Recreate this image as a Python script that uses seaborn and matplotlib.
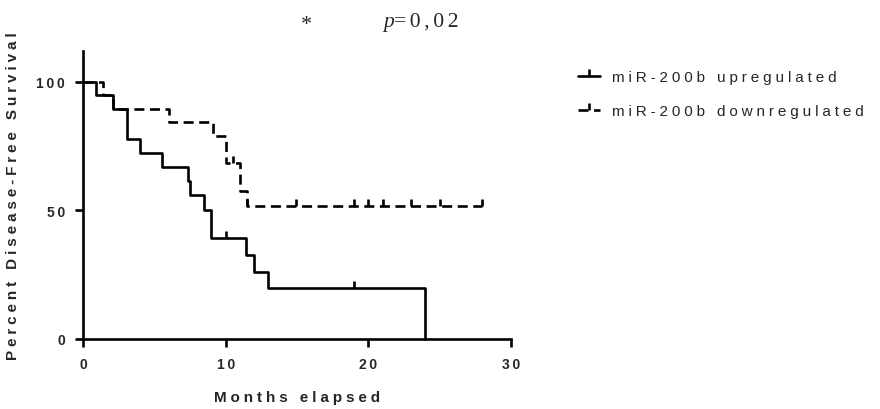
import matplotlib
matplotlib.use("Agg")
import matplotlib.pyplot as plt
import seaborn as sns
from matplotlib.lines import Line2D

# Kaplan-Meier step data (months, percent disease-free survival)
up_time = [0, 0.9, 2.1, 3.05, 4.0, 5.55, 7.35, 7.5, 8.5, 9.0, 11.4, 12.0, 13.0, 24.0]
up_surv = [100, 94.7, 89.5, 77.8, 72.5, 66.7, 61.3, 55.9, 50.3, 39.2, 32.6, 26.2, 19.7, 0]
up_cens_time = [10.0, 19.0]
up_cens_surv = [39.2, 19.7]

down_time = [0, 1.4, 2.1, 6.0, 9.1, 10.0, 11.0, 11.5, 28.0]
down_surv = [100, 94.7, 89.5, 84.2, 78.9, 68.4, 57.4, 51.7, 51.7]
down_cens_time = [10.5, 11.5, 14.9, 19.0, 20.0, 21.0, 23.0, 25.0, 28.0]
down_cens_surv = [68.4, 51.7, 51.7, 51.7, 51.7, 51.7, 51.7, 51.7, 51.7]

series_labels = ["miR-200b upregulated", "miR-200b downregulated"]
x_ticks = [0, 10, 20, 30]
y_ticks = [0, 50, 100]
x_label = "Months elapsed"
y_label = "Percent Disease-Free Survival"
star_text = "*"
p_label = "p"
p_value = "=0,02"

sns.set_style("ticks")
plt.rcParams["font.family"] = ["Liberation Sans", "DejaVu Sans"]


def track(s, sep):
    """Widen letter spacing by joining characters with a spacing glyph."""
    return sep.join(s)


LW = 1.9
DASH = (0, (3.8, 2.1))
SERIF = ["Liberation Serif", "DejaVu Serif"]

fig = plt.figure(figsize=(8.8, 4.1), dpi=100)
ax = fig.add_axes([83 / 880, 1 - 340 / 410, (511 - 83) / 880, (340 - 52) / 410])

sns.lineplot(x=up_time, y=up_surv, drawstyle="steps-post", estimator=None, sort=False,
             color="black", linewidth=LW, ax=ax, clip_on=False)
sns.lineplot(x=down_time, y=down_surv, drawstyle="steps-post", estimator=None, sort=False,
             color="black", linewidth=LW, linestyle=DASH, ax=ax, clip_on=False)
sns.scatterplot(x=up_cens_time, y=up_cens_surv, marker=2, s=22, color="black",
                linewidth=LW, ax=ax, clip_on=False, zorder=3)
sns.scatterplot(x=down_cens_time, y=down_cens_surv, marker=2, s=22, color="black",
                linewidth=LW, ax=ax, clip_on=False, zorder=3)

ax.set_xlim(0, 30)
ax.set_ylim(0, 112)
ax.set_xticks(x_ticks)
ax.set_yticks(y_ticks)
ax.set_xticklabels([track(str(v), "\u2009") for v in x_ticks], fontsize=10, fontweight="bold")
ax.set_yticklabels([track(str(v), "\u2009") for v in y_ticks], fontsize=10, fontweight="bold")
ax.tick_params(axis="both", direction="out", length=6, width=LW, pad=7, color="black")
for side in ("left", "bottom"):
    ax.spines[side].set_linewidth(LW)
    ax.spines[side].set_color("black")
sns.despine(ax=ax)

ax.set_xlabel(track(x_label, "\u2005"), fontsize=11, fontweight="bold", labelpad=14)
ax.set_ylabel(track(y_label, "\u2005"), fontsize=11, fontweight="bold", labelpad=12)

# significance annotation
fig.text(306 / 880, 1 - 26 / 410, star_text, ha="center", va="center",
         family=SERIF, fontsize=16)
p_txt = fig.text(383 / 880, 1 - 27 / 410, p_label, ha="left", va="baseline",
                 family=SERIF, style="italic", fontsize=15.5)
ax.annotate(track(p_value, "\u2006"), xy=(1, 0), xycoords=p_txt, ha="left", va="bottom",
            family=SERIF, fontsize=15.5, annotation_clip=False)

handles = [
    Line2D([], [], color="black", linewidth=LW, marker=2, markersize=5, markeredgewidth=LW),
    Line2D([], [], color="black", linewidth=LW, linestyle=DASH, marker=2, markersize=5,
           markeredgewidth=LW),
]
fig.legend(handles, [track(s, "\u2005") for s in series_labels], loc="upper left",
           bbox_to_anchor=(572 / 880, 1 - 65 / 410), frameon=False, fontsize=11,
           handlelength=1.45, handletextpad=0.8, labelspacing=1.3, borderaxespad=0,
           numpoints=1)

fig.savefig("out.png", dpi=100)
